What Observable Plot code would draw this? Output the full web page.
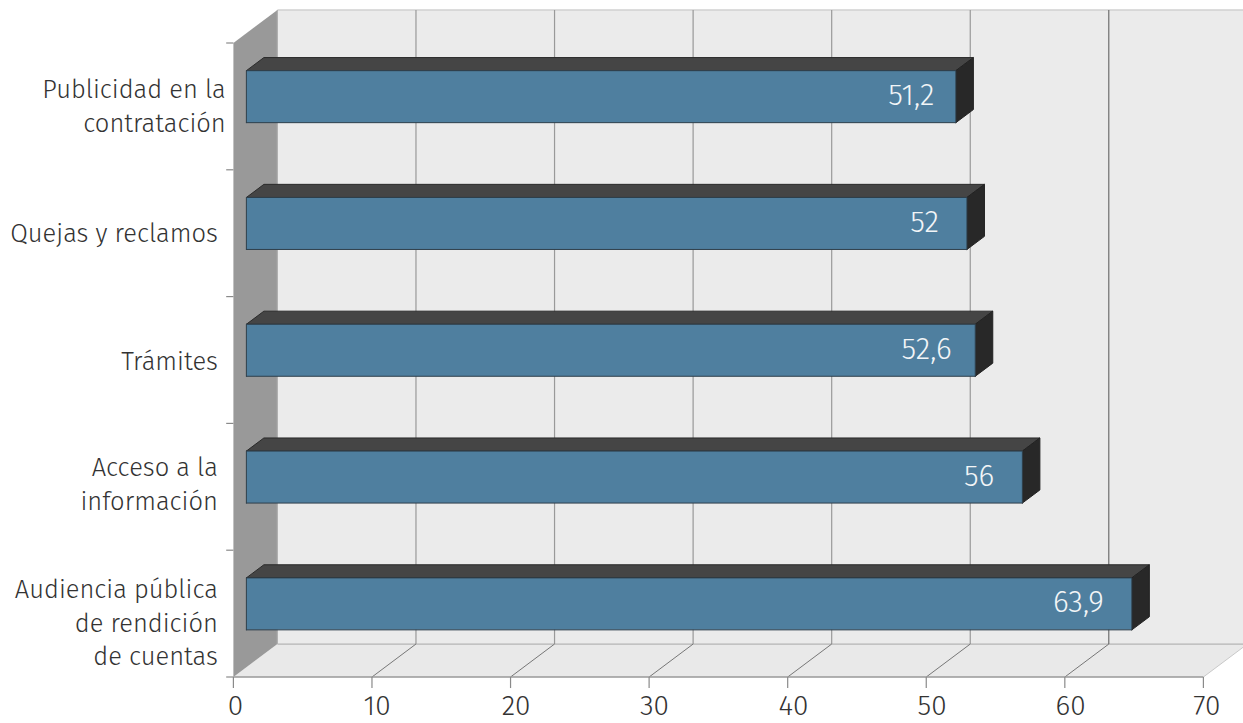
<!DOCTYPE html>
<html lang="es">
<head>
<meta charset="utf-8">
<title>Gráfico de barras</title>
<script src="https://cdn.jsdelivr.net/npm/d3@7"></script>
<script src="https://cdn.jsdelivr.net/npm/@observablehq/plot@0.6"></script>
<style>
  html, body { margin: 0; padding: 0; background: #fff; }
  svg { display: block; }
</style>
</head>
<body>
<div id="chart"></div>
<script>
// Bottom-to-top order of the categories.
const categories = [
  "Audiencia pública\nde rendición\nde cuentas",
  "Acceso a la\ninformación",
  "Trámites",
  "Quejas y reclamos",
  "Publicidad en la\ncontratación"
];
const values = [63.9, 56, 52.6, 52, 51.2];
const valueLabels = ["63,9", "56", "52,6", "52", "51,2"];
const xTicks = [0, 10, 20, 30, 40, 50, 60, 70];
// Small per-label offsets, in axis units.
const labelShiftX = [-1.12, -1.12, -1.12, -1.12, -0.55];
const labelShiftY = [-0.058, 0.036, 0.008, 0.016, 0.016];
const valueShiftX = [0.07, 0.07, 0.4, 0.07, 0.55];
const tickShiftX = [0.15, 0.37, 0.4, 0.38, 0.42, 0.42, 0.42, 0.25];

// Oblique projection: a point at depth t (0 = front plane, 1 = back wall)
// is shifted along both axes, in data units.
const DEPTH_X = 3.175, DEPTH_Y = 0.26;
const XMAX = 70, SLOTS = 5;
const project = (v, s, t) => ({x: v + DEPTH_X * t, y: s + DEPTH_Y * t});
const polygon = (...corners) => {
  const pts = corners.map(([v, s, t]) => project(v, s, t));
  return [...pts, pts[0]];
};

// Bar solids sit between these two depths, centred in their slot.
const T0 = 0.295, T1 = 0.693, HALF = 0.205;
const rows = categories.map((name, i) => ({name, i, value: values[i], label: valueLabels[i]}));
const topFaces = rows.map(({i, value}) => polygon(
  [0, i + .5 + HALF, T0], [value, i + .5 + HALF, T0], [value, i + .5 + HALF, T1], [0, i + .5 + HALF, T1]));
const sideFaces = rows.map(({i, value}) => polygon(
  [value, i + .5 - HALF, T0], [value, i + .5 - HALF, T1], [value, i + .5 + HALF, T1], [value, i + .5 + HALF, T0]));
const frontFaces = rows.map(({i, value}) => polygon(
  [0, i + .5 - HALF, T0], [value, i + .5 - HALF, T0], [value, i + .5 + HALF, T0], [0, i + .5 + HALF, T0]));

const face = (polys, fill, stroke) =>
  polys.map(p => Plot.line(p, {x: "x", y: "y", fill, stroke, strokeWidth: 1}));

const wallBack = polygon([0, 0, 1], [XMAX, 0, 1], [XMAX, SLOTS, 1], [0, SLOTS, 1]);
const wallLeft = polygon([0, 0, 0], [0, 0, 1], [0, SLOTS, 1], [0, SLOTS, 0]);
const floor = polygon([0, 0, 0], [XMAX, 0, 0], [XMAX, 0, 1], [0, 0, 1]);
const slotTicks = d3.range(SLOTS + 1);

const LABEL_FONT = "'Fira Sans', Lato, sans-serif";
const plot = Plot.plot({
  width: 1243,
  height: 723,
  margin: 0,
  style: {background: "#fff", fontFamily: LABEL_FONT, fontWeight: 300},
  x: {domain: [0, XMAX], range: [232.9, 1202.9], axis: null},
  y: {domain: [0, SLOTS], range: [676.5, 42.5], axis: null},
  marks: [
    // Walls and floor
    ...face([wallBack], "#ebebeb", "none"),
    ...face([floor], "#e9e9e9", "none"),
    ...face([wallLeft], "#999999", "none"),
    // Top edge of the wall and back edge of the floor
    Plot.link([wallBack[3]], {x1: "x", y1: "y", x2: d => d.x + XMAX, y2: "y", stroke: "#d0d0d0", strokeWidth: 1.5}),
    Plot.link([floor[3]], {x1: "x", y1: "y", x2: d => d.x + XMAX, y2: "y", stroke: "#b4b4b4", strokeWidth: 1.2}),
    // Gridlines on the back wall and across the floor
    Plot.link(xTicks, {
      x1: d => project(d, 0, 1).x, y1: () => project(0, 0, 1).y,
      x2: d => project(d, 0, 1).x, y2: () => project(0, SLOTS, 1).y,
      stroke: d => d === 60 ? "#555" : d === 0 ? "#b0b0b0" : "#999", strokeWidth: d => d === 60 ? 1 : 1.2
    }),
    Plot.link(xTicks.filter(d => d > 0), {
      x1: d => d, y1: 0,
      x2: d => project(d, 0, 1).x, y2: () => project(0, 0, 1).y,
      stroke: d => d === XMAX ? "#c8c8c8" : "#777", strokeWidth: 1
    }),
    // Axis lines and ticks
    Plot.link(xTicks.slice(0, 1), {x1: 0, y1: 0, x2: XMAX, y2: 0, stroke: "#999", strokeWidth: 1.6}),
    Plot.link(xTicks, {x1: d => d, x2: d => d, y1: 0, y2: -0.087, stroke: "#8a8a8a", strokeWidth: 1.2}),
    Plot.link(slotTicks, {x1: -0.52, x2: 0, y1: d => d, y2: d => d, stroke: "#8a8a8a", strokeWidth: 1.2}),
    // Bars
    ...face(topFaces, "#454545", "#2b2b2b"),
    ...face(sideFaces, "#282828", "#222"),
    ...face(frontFaces, "#4f7f9f", "#2e3f4b"),
    // Value labels, inside the end of each bar
    Plot.text(rows, {
      x: d => d.value + DEPTH_X * T0 + valueShiftX[d.i],
      y: d => d.i + .5 + DEPTH_Y * T0,
      text: "label", textAnchor: "end", dx: -29, dy: -1,
      fill: "#f2f5f7", fontSize: 30, fontWeight: 300
    }),
    // Category labels
    Plot.text(rows, {
      x: d => labelShiftX[d.i], y: d => d.i + .5 + labelShiftY[d.i],
      text: "name", textAnchor: "end", lineHeight: 1.31,
      fill: "#333", fontSize: 25.5, fontWeight: 300
    }),
    // Value-axis labels
    Plot.text(xTicks, {
      x: (d, i) => d + tickShiftX[i], y: -0.18, text: d => String(d), dy: 6.5,
      fill: "#333", fontSize: 28, fontWeight: 300
    })
  ]
});
document.getElementById("chart").append(plot);
</script>
</body>
</html>
